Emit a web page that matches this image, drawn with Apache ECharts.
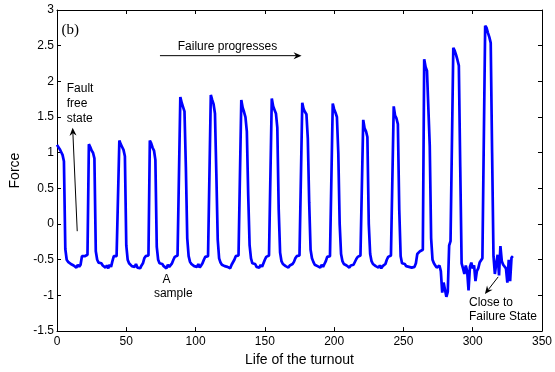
<!DOCTYPE html>
<html><head><meta charset="utf-8">
<script src="https://cdn.jsdelivr.net/npm/echarts@6/dist/echarts.min.js"></script>
<style>html,body{margin:0;padding:0;background:#fff}#c{width:555px;height:372px}</style>
</head><body><div id="c"></div>
<script>
// Axis ticks
const xTicks = [0, 50, 100, 150, 200, 250, 300, 350];
const yTicks = [-1.5, -1, -0.5, 0, 0.5, 1, 1.5, 2, 2.5, 3];
// Force, one sample per unit of life starting at 0
const force = [
  // pulse 1 (0-22)
  1.11,1.09,1.05,1.01,0.97,0.88,-0.35,-0.50,-0.53,-0.52,-0.56,-0.55,-0.58,-0.56,-0.61,-0.57,-0.60,-0.57,-0.45,-0.44,-0.45,-0.43,-0.43,
  // pulse 2 (23-44)
  1.12,1.08,1.03,1.00,0.92,-0.38,-0.50,-0.54,-0.56,-0.55,-0.58,-0.57,-0.61,-0.58,-0.62,-0.57,-0.60,-0.52,-0.45,-0.44,-0.45,-0.44,
  // pulse 3 (45-66)
  1.17,1.12,1.08,1.04,0.95,-0.30,-0.50,-0.55,-0.56,-0.59,-0.57,-0.60,-0.56,-0.61,-0.59,-0.62,-0.58,-0.55,-0.48,-0.45,-0.43,-0.44,
  // pulse 4 (67-88)
  1.17,1.13,1.07,1.03,0.90,-0.32,-0.50,-0.55,-0.57,-0.56,-0.59,-0.58,-0.62,-0.57,-0.60,-0.58,-0.55,-0.50,-0.46,-0.45,-0.44,-0.43,
  // pulse 5 (89-110)
  1.78,1.70,1.64,1.58,0.80,-0.20,-0.45,-0.53,-0.56,-0.55,-0.59,-0.57,-0.60,-0.56,-0.61,-0.58,-0.55,-0.50,-0.46,-0.45,-0.45,-0.44,
  // pulse 6 (111-132)
  1.81,1.74,1.68,1.55,0.70,-0.22,-0.48,-0.54,-0.57,-0.55,-0.59,-0.57,-0.60,-0.58,-0.62,-0.57,-0.55,-0.50,-0.45,-0.44,-0.44,-0.43,
  // pulse 7 (133-154)
  1.74,1.63,1.57,1.50,1.30,0.40,-0.30,-0.48,-0.55,-0.57,-0.56,-0.60,-0.58,-0.61,-0.57,-0.60,-0.55,-0.50,-0.46,-0.45,-0.44,-0.43,
  // pulse 8 (155-176)
  1.76,1.65,1.60,1.55,1.35,0.20,-0.40,-0.52,-0.56,-0.55,-0.59,-0.57,-0.61,-0.58,-0.60,-0.56,-0.53,-0.48,-0.45,-0.44,-0.44,-0.43,
  // pulse 9 (177-198)
  1.70,1.61,1.57,1.54,1.20,0.30,-0.36,-0.48,-0.53,-0.57,-0.55,-0.59,-0.58,-0.61,-0.57,-0.60,-0.56,-0.52,-0.46,-0.45,-0.45,-0.43,
  // pulse 10 (199-220)
  1.69,1.61,1.56,1.50,1.00,0.00,-0.42,-0.52,-0.56,-0.55,-0.58,-0.57,-0.61,-0.58,-0.60,-0.57,-0.55,-0.49,-0.46,-0.45,-0.44,-0.43,
  // pulse 11 (221-242)
  1.46,1.34,1.30,1.22,0.00,-0.42,-0.52,-0.56,-0.55,-0.59,-0.57,-0.61,-0.58,-0.62,-0.59,-0.60,-0.56,-0.50,-0.46,-0.45,-0.44,-0.42,
  // pulse 12 (243-264)
  1.65,1.52,1.48,1.40,0.20,-0.45,-0.55,-0.57,-0.56,-0.59,-0.58,-0.60,-0.59,-0.61,-0.59,-0.60,-0.55,-0.42,-0.40,-0.38,-0.37,-0.36,
  // pulse 13 (265-285)
  2.31,2.20,2.15,2.13,1.10,-0.20,-0.50,-0.55,-0.58,-0.61,-0.63,-0.58,-0.66,-0.96,-0.82,-0.92,-1.02,-0.95,-0.30,-0.24,-0.24,
  // pulse 14 (286-308)
  2.47,2.43,2.37,2.30,2.22,0.80,-0.55,-0.62,-0.70,-0.58,-0.66,-0.93,-0.60,-0.54,-0.62,-0.58,-0.80,-0.66,-0.62,-0.54,-0.52,-0.48,-0.46,
  // pulse 15 (309-329)
  2.78,2.75,2.68,2.62,2.54,1.00,-0.45,-0.70,-0.55,-0.43,-0.72,-0.31,-0.52,-0.57,-0.58,-0.62,-0.82,-0.50,-0.80,-0.47,-0.45
];
// Annotations in data coordinates
const labels = [
  {text: '(b)', at: [9.5, 2.72], align: 'center', font: '15px "Liberation Serif", "Times New Roman", serif'},
  {text: 'Fault\nfree\nstate', at: [7.0, 1.69], align: 'left'},
  {text: 'Failure progresses', at: [123.0, 2.49], align: 'center'},
  {text: 'A', at: [79.1, -0.78], align: 'center'},
  {text: 'sample', at: [83.9, -0.97], align: 'center'},
  {text: 'Close to', at: [297.3, -1.10], align: 'left'},
  {text: 'Failure State', at: [297.3, -1.30], align: 'left'}
];
const arrows = [
  {from: [14.6, -0.10], to: [11.3, 1.35]},
  {from: [74.3, 2.36], to: [176.5, 2.36]},
  {from: [318.4, -0.74], to: [308.8, -0.98]}
];

const FONT = '"Liberation Sans", Arial, sans-serif';
const chart = echarts.init(document.getElementById('c'));
const axisCommon = {
  type: 'value',
  axisLine: {show: true, onZero: false, lineStyle: {color: '#000', width: 1}},
  axisTick: {show: true, inside: true, length: 4, lineStyle: {color: '#000', width: 1}},
  splitLine: {show: false}
};
chart.setOption({
  animation: false,
  backgroundColor: '#fff',
  grid: {left: 57, right: 13, top: 10, bottom: 36, containLabel: false},
  xAxis: [
    Object.assign({}, axisCommon, {
      position: 'bottom', min: xTicks[0], max: xTicks[xTicks.length - 1], interval: xTicks[1] - xTicks[0],
      axisLabel: {color: '#000', fontSize: 12, fontFamily: FONT, margin: 5},
      name: 'Life of the turnout', nameLocation: 'middle', nameGap: 19,
      nameTextStyle: {color: '#000', fontSize: 14, fontFamily: FONT}
    }),
    Object.assign({}, axisCommon, {
      position: 'top', min: xTicks[0], max: xTicks[xTicks.length - 1], interval: xTicks[1] - xTicks[0],
      axisLabel: {show: false}
    })
  ],
  yAxis: [
    Object.assign({}, axisCommon, {
      position: 'left', min: yTicks[0], max: yTicks[yTicks.length - 1], interval: yTicks[1] - yTicks[0],
      axisLabel: {color: '#000', fontSize: 12, fontFamily: FONT, margin: 3},
      name: 'Force', nameLocation: 'middle', nameGap: 28, nameRotate: 90,
      nameTextStyle: {color: '#000', fontSize: 14, fontFamily: FONT}
    }),
    Object.assign({}, axisCommon, {
      position: 'right', min: yTicks[0], max: yTicks[yTicks.length - 1], interval: yTicks[1] - yTicks[0],
      axisLabel: {show: false}
    })
  ],
  series: [{
    type: 'line',
    xAxisIndex: 0, yAxisIndex: 0,
    data: force.map((v, i) => [i, v]),
    showSymbol: false,
    symbol: 'none',
    lineStyle: {color: '#0000ff', width: 2.7},
    clip: true
  }]
});

const toPx = p => chart.convertToPixel({xAxisIndex: 0, yAxisIndex: 0}, p);
const elements = [];
labels.forEach(l => {
  const p = toPx(l.at);
  elements.push({
    type: 'text', x: p[0], y: p[1], z: 100,
    style: {
      text: l.text, fill: '#000',
      font: l.font || ('12px ' + FONT),
      lineHeight: 15,
      align: l.align, verticalAlign: 'middle',
      textAlign: l.align, textVerticalAlign: 'middle'
    }
  });
});
arrows.forEach(a => {
  const s = toPx(a.from), e = toPx(a.to);
  const dx = e[0] - s[0], dy = e[1] - s[1];
  const len = Math.sqrt(dx * dx + dy * dy);
  const ux = dx / len, uy = dy / len;
  const nx = -uy, ny = ux;
  const hl = 8, hw = 3.5, notch = 5.5;
  const back = [e[0] - ux * hl, e[1] - uy * hl];
  const mid = [e[0] - ux * notch, e[1] - uy * notch];
  elements.push({
    type: 'line', z: 100,
    shape: {x1: s[0], y1: s[1], x2: mid[0], y2: mid[1]},
    style: {stroke: '#000', lineWidth: 1}
  });
  elements.push({
    type: 'polygon', z: 100,
    shape: {points: [e, [back[0] + nx * hw, back[1] + ny * hw], mid, [back[0] - nx * hw, back[1] - ny * hw]]},
    style: {fill: '#000'}
  });
});
chart.setOption({graphic: {elements: elements}});
</script>
</body></html>
